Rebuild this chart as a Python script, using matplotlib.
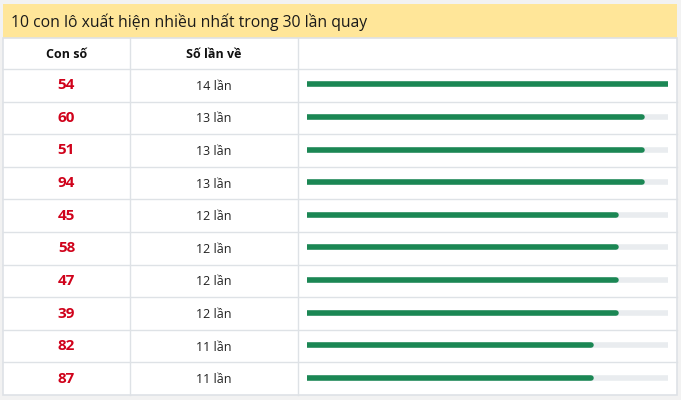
import matplotlib.pyplot as plt
from matplotlib.patches import Rectangle

plt.rcParams['font.family'] = ['Open Sans', 'DejaVu Sans']

title = "10 con lô xuất hiện nhiều nhất trong 30 lần quay"
headers = ["Con số", "Số lần về"]
numbers = ["54", "60", "51", "94", "45", "58", "47", "39", "82", "87"]
counts = [14, 13, 13, 13, 12, 12, 12, 12, 11, 11]

W, H = 681, 400
fig = plt.figure(figsize=(W / 100, H / 100), dpi=100)
fig.patch.set_facecolor('#f2f2f2')
ax = fig.add_axes([0, 0, 1, 1])
ax.set_xlim(0, W)
ax.set_ylim(H, 0)
ax.axis('off')

left, right = 3, 677
top, title_h = 4, 34
head_top = top + title_h
head_h = 31
row_h = 32.6
n = len(numbers)
bottom = head_top + head_h + n * row_h
col1, col2 = 130, 298
line_c = '#dee2e6'

# title band
ax.add_patch(Rectangle((left, top), right - left, title_h, facecolor='#ffe699', edgecolor='none'))
ax.text(11, top + title_h / 2 + 1, title, fontsize=11.3, color='#1a1a1a', va='center', ha='left')

# table body
ax.add_patch(Rectangle((left, head_top), right - left, bottom - head_top, facecolor='white',
                       edgecolor=line_c, linewidth=1.2))
ax.plot([col1, col1], [head_top, bottom], color=line_c, lw=1)
ax.plot([col2, col2], [head_top, bottom], color=line_c, lw=1)
for i in range(n):
    y = head_top + head_h + i * row_h
    ax.plot([left, right], [y, y], color=line_c, lw=1)

ax.text((left + col1) / 2, head_top + head_h / 2 + 1, headers[0], fontsize=9, fontweight='bold',
        color='#111111', ha='center', va='center')
ax.text((col1 + col2) / 2, head_top + head_h / 2 + 1, headers[1], fontsize=9, fontweight='bold',
        color='#111111', ha='center', va='center')

for i, (num, c) in enumerate(zip(numbers, counts)):
    yc = head_top + head_h + i * row_h + row_h / 2
    ax.text((left + col1) / 2, yc, num, fontsize=11, fontweight='bold', color='#d0021b',
            ha='center', va='center')
    ax.text((col1 + col2) / 2, yc + 1, f"{c} lần", fontsize=9, color='#222222',
            ha='center', va='center')

# bars column (round caps add ~2.5px each end)
bx0, bx1 = 307, 668
bax = fig.add_axes([bx0 / W, 1 - bottom / H, (bx1 - bx0) / W, (bottom - head_top - head_h) / H])
bax.set_xlim(0, max(counts))
bax.set_ylim(n, 0)
bax.axis('off')
for i, c in enumerate(counts):
    y = i + 0.47
    bax.plot([0, max(counts)], [y, y], color='#e9ecef', lw=4, solid_capstyle='round')
    bax.plot([0, c], [y, y], color='#1b8754', lw=4, solid_capstyle='round')

fig.savefig('out.png', dpi=100, facecolor=fig.get_facecolor())
